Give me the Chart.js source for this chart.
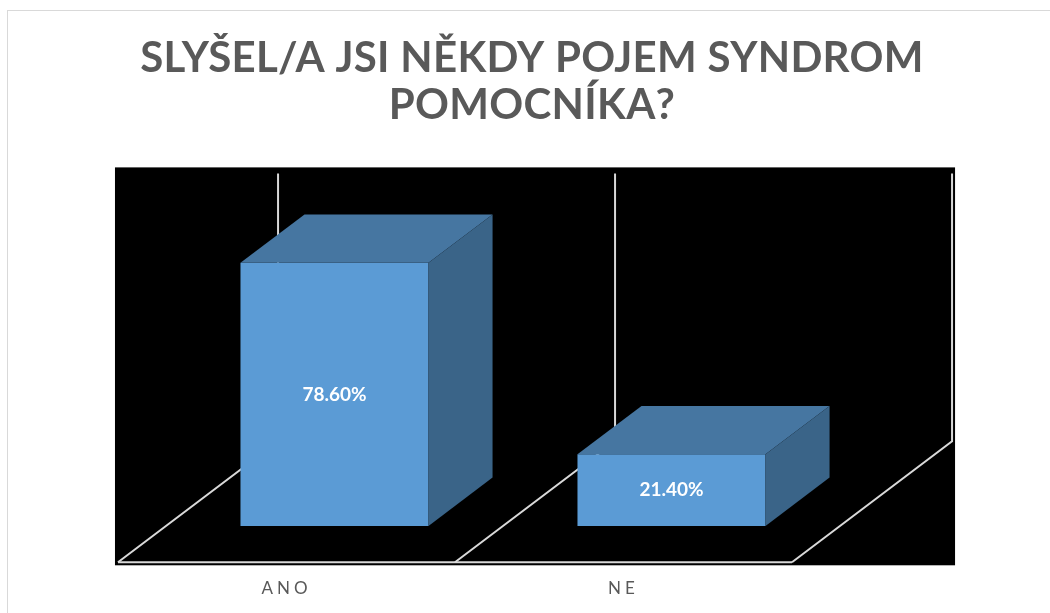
<!DOCTYPE html>
<html><head><meta charset="utf-8">
<script src="https://cdn.jsdelivr.net/npm/chart.js@4/dist/chart.umd.min.js"></script>
<style>html,body{margin:0;padding:0;background:#fff;overflow:hidden;} canvas{display:block;}</style>
</head><body>
<canvas id="c" width="1050" height="613"></canvas>
<script>
// ---- data ----
const categories = ['ANO', 'NE'];
const values = [78.6, 21.4];
const titleLines = ['SLYŠEL/A JSI NĚKDY POJEM SYNDROM', 'POMOCNÍKA?'];
const valueAxisMin = 0;
const valueAxisMax = 80;

// ---- style ----
const GRID = '#d9d9d9';
const FRONT = '#5b9bd5', TOP = '#4676a1', SIDE = '#3a6488';
const TEXT = '#595959';
const DEPTH_DX = 0.475, DEPTH_DY = -0.359; // floor depth relative to category width
const FRONT_F = 0.3, BAR_F = 0.4;

function geom(chart) {
  const x = chart.scales.x, y = chart.scales.y;
  const catW = x.getPixelForValue(1) - x.getPixelForValue(0);
  const Dx = DEPTH_DX * catW, Dy = DEPTH_DY * catW;
  return {
    x, y, catW, Dx, Dy,
    fx: -FRONT_F * Dx, fy: -FRONT_F * Dy,
    bx: (1 - FRONT_F) * Dx, by: (1 - FRONT_F) * Dy,
    base: y.getPixelForValue(valueAxisMin), topv: y.getPixelForValue(valueAxisMax)
  };
}

const plugin3d = {
  id: 'threeD',
  beforeDraw(chart) {
    const ctx = chart.ctx;
    ctx.save();
    ctx.strokeStyle = '#d9d9d9'; ctx.lineWidth = 1;
    ctx.strokeRect(7.5, 10.5, 1300, 900);
    ctx.restore();
    ctx.letterSpacing = '0.3px';
    const sx = chart.scales.x;
    if (sx && !sx.__ls) {
      const orig = sx.drawLabels.bind(sx);
      sx.drawLabels = function (a) { ctx.save(); ctx.letterSpacing = '4px'; orig(a); ctx.restore(); };
      sx.__ls = true;
    }
  },
  beforeDatasetsDraw(chart) {
    const ctx = chart.ctx;
    const g = geom(chart);
    const n = categories.length;
    const bounds = [];
    for (let i = 0; i <= n; i++) bounds.push(g.x.getPixelForValue(i - 0.5));
    ctx.save();
    ctx.letterSpacing = '0px';
    // plot area fill
    const L = bounds[0] + g.fx - 3, R = bounds[n] + g.bx + 3;
    const T = g.topv + g.by - 6, B = g.base + g.fy + 3;
    ctx.fillStyle = '#000';
    ctx.fillRect(L, T, R - L, B - T);
    // floor + walls
    ctx.strokeStyle = GRID; ctx.lineWidth = 2; ctx.lineJoin = 'miter';
    ctx.beginPath();
    ctx.moveTo(bounds[0] + g.fx, g.base + g.fy);
    ctx.lineTo(bounds[n] + g.fx, g.base + g.fy);
    ctx.stroke();
    for (let i = 0; i <= n; i++) {
      ctx.beginPath();
      ctx.moveTo(bounds[i] + g.fx, g.base + g.fy);
      ctx.lineTo(bounds[i] + g.bx, g.base + g.by);
      ctx.lineTo(bounds[i] + g.bx, g.topv + g.by);
      ctx.stroke();
    }
    ctx.restore();
  },
  afterDatasetsDraw(chart) {
    const ctx = chart.ctx;
    const g = geom(chart);
    const bdx = BAR_F * g.Dx, bdy = BAR_F * g.Dy;
    const meta = chart.getDatasetMeta(0);
    ctx.save();
    ctx.letterSpacing = '0px';
    meta.data.forEach((bar, i) => {
      const p = bar.getProps(['x', 'y', 'base', 'width'], true);
      const l = p.x - p.width / 2, r = p.x + p.width / 2;
      // top face
      ctx.fillStyle = TOP;
      ctx.beginPath();
      ctx.moveTo(l, p.y); ctx.lineTo(l + bdx, p.y + bdy);
      ctx.lineTo(r + bdx, p.y + bdy); ctx.lineTo(r, p.y); ctx.closePath(); ctx.fill();
      // side face
      ctx.fillStyle = SIDE;
      ctx.beginPath();
      ctx.moveTo(r, p.y); ctx.lineTo(r + bdx, p.y + bdy);
      ctx.lineTo(r + bdx, p.base + bdy); ctx.lineTo(r, p.base); ctx.closePath(); ctx.fill();
      // label
      ctx.fillStyle = '#ffffff';
      ctx.font = 'bold 19px Lato';
      ctx.textAlign = 'center'; ctx.textBaseline = 'middle';
      ctx.fillText(values[i].toFixed(2) + '%', p.x, (p.y + p.base) / 2);
    });
    ctx.restore();
  },
  afterDraw(chart) { chart.ctx.letterSpacing = '0px'; }
};

new Chart(document.getElementById('c'), {
  type: 'bar',
  data: {
    labels: categories,
    datasets: [{ data: values, backgroundColor: FRONT, borderWidth: 0,
      categoryPercentage: 1.0, barPercentage: 0.558 }]
  },
  options: {
    responsive: false, animation: false,
    layout: { padding: { left: 14, right: 0, top: 0, bottom: 15 } },
    plugins: {
      legend: { display: false }, tooltip: { enabled: false },
      title: { display: true, text: titleLines, color: TEXT,
        font: { family: 'Lato', size: 42, weight: 'bold', lineHeight: 1.12 },
        padding: { top: 35, bottom: 129 } }
    },
    scales: {
      x: { type: 'category', offset: true,
        grid: { display: false, drawTicks: false }, border: { display: false },
        ticks: { color: TEXT, font: { family: 'Lato', size: 17 }, padding: 52, labelOffset: -48, maxRotation: 0 },
        afterFit(s) { s.height = 72; } },
      y: { type: 'linear', min: valueAxisMin, max: valueAxisMax, display: true,
        grid: { display: false, drawTicks: false }, border: { display: false },
        ticks: { display: false }, afterFit(s) { s.width = 152; } },
      y2: { type: 'linear', position: 'right', display: true,
        grid: { display: false, drawTicks: false }, border: { display: false },
        ticks: { display: false }, afterFit(s) { s.width = 210; } }
    }
  },
  plugins: [plugin3d]
});
</script>
</body></html>
